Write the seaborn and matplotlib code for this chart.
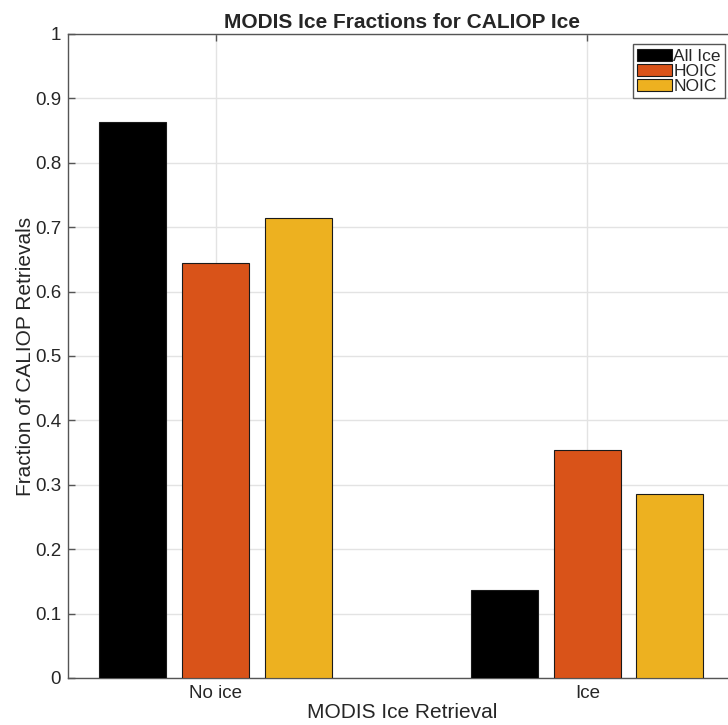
import numpy as np
import pandas as pd
import seaborn as sns
import matplotlib.pyplot as plt

# DATA
categories = ["No ice", "Ice"]
series = ["All Ice", "HOIC", "NOIC"]
all_ice = [0.863, 0.137]
hoic = [0.645, 0.354]
noic = [0.714, 0.285]
yticks = [0, 0.1, 0.2, 0.3, 0.4, 0.5, 0.6, 0.7, 0.8, 0.9, 1]
colors = ["#000000", "#D95319", "#EDB120"]

df = pd.DataFrame({
    "retrieval": categories * 3,
    "group": np.repeat(series, len(categories)),
    "fraction": all_ice + hoic + noic,
})

sns.set_style("white")
plt.rcParams["font.family"] = ["Liberation Sans", "DejaVu Sans"]

fig = plt.figure(figsize=(7.28, 7.25), dpi=100)
# axes runs slightly past the right edge, like the cropped original
ax = fig.add_axes([68 / 728, 1 - 678 / 725, 668 / 728, 644 / 725])

sns.barplot(
    data=df, x="retrieval", y="fraction", hue="group",
    order=categories, hue_order=series, palette=colors, saturation=1,
    width=0.667, gap=0.19, edgecolor="#1a1a1a", linewidth=0.8,
    errorbar=None, ax=ax, zorder=3
)

ax.set_xlim(-0.397, 1.4)
ax.set_ylim(0, 1)
ax.set_yticks(yticks)
ax.set_yticklabels([f"{t:g}" for t in yticks])
ax.grid(True, color="#e3e3e3", linewidth=1, zorder=0)
ax.set_axisbelow(True)

ax.tick_params(axis="both", direction="in", length=5, width=1,
               color="#555555", labelcolor="#262626", labelsize=13.5,
               top=True, right=True, bottom=True, left=True, pad=5)
for s in ["left", "top", "bottom", "right"]:
    ax.spines[s].set_color("#555555")
    ax.spines[s].set_linewidth(1)

ax.set_xlabel("MODIS Ice Retrieval", fontsize=15, color="#262626", labelpad=1)
ax.set_ylabel("Fraction of CALIOP Retrievals", fontsize=15, color="#262626", labelpad=0)
ax.set_title("MODIS Ice Fractions for CALIOP Ice", fontsize=15,
             fontweight="bold", pad=4)

leg = ax.legend(
    loc="upper right", bbox_to_anchor=(0.984, 0.984), borderaxespad=0,
    fontsize=12.5, frameon=True, fancybox=False, framealpha=1,
    edgecolor="#555555", handlelength=2.0, handleheight=0.7,
    handletextpad=0.1, labelspacing=0.0, borderpad=0.25, title=None
)
leg.get_frame().set_linewidth(1)

fig.savefig("out.png", dpi=100)
